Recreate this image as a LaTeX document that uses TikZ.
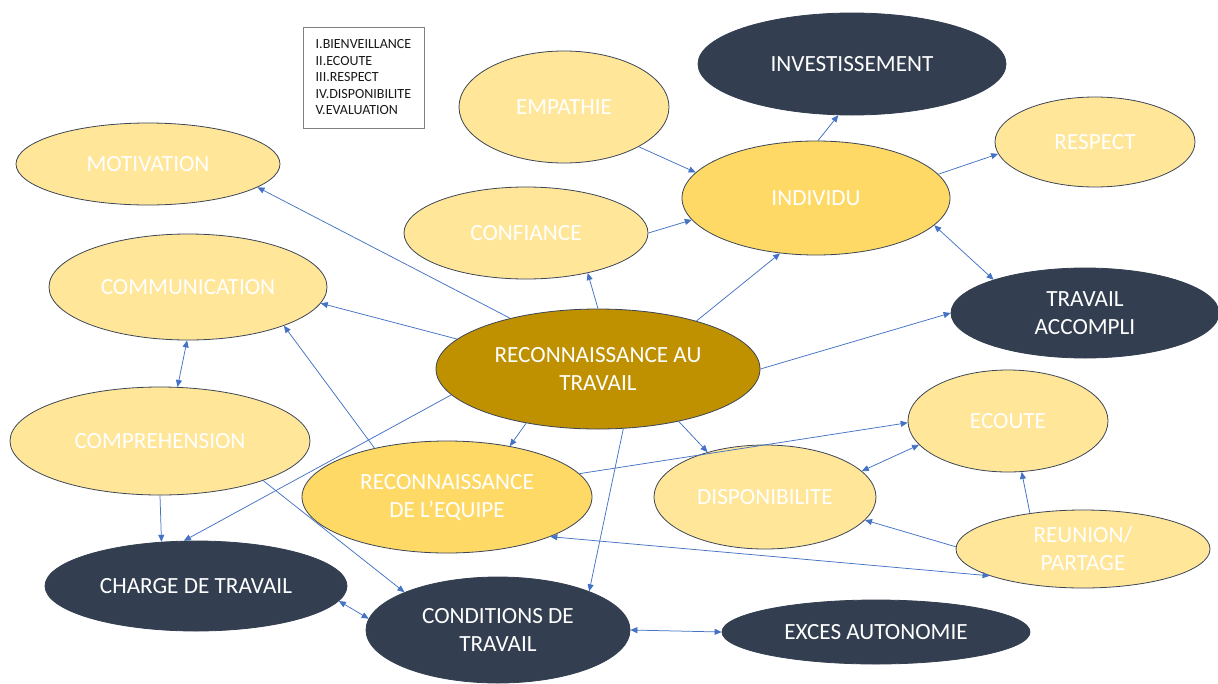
\documentclass[tikz,border=0pt]{standalone}
\usepackage{fontspec}
\setmainfont{Carlito}
\usetikzlibrary{shapes.geometric,arrows.meta}
\definecolor{lightY}{HTML}{FFE699}
\definecolor{midY}{HTML}{FFD966}
\definecolor{goldC}{HTML}{BF9000}
\definecolor{navyC}{HTML}{333F50}
\definecolor{edgeC}{HTML}{3C4656}
\definecolor{connC}{HTML}{4472C4}
\tikzset{
  base/.style={ellipse, inner sep=0pt, text=white, align=center, font=\fontsize{23.2}{28}\selectfont},
  sz/.style 2 args={minimum width=#1, minimum height=#2},
  light/.style={base, fill=lightY, draw=edgeC, line width=0.8pt},
  mid/.style={base, fill=midY, draw=edgeC, line width=0.8pt},
  dark/.style={base, fill=navyC, draw=navyC, line width=0.8pt},
  core/.style={base, fill=goldC, draw=edgeC, line width=0.8pt},
  link/.style={draw=connC, line width=0.75pt, -{Triangle[length=7pt,width=6pt]}},
  dlink/.style={draw=connC, line width=0.75pt, {Triangle[length=7pt,width=6pt]}-{Triangle[length=7pt,width=6pt]}},
  legendbox/.style={draw=black!50, fill=white, line width=0.8pt, minimum width=121, minimum height=101, inner sep=0pt, align=left, text=black!90, font=\fontsize{14}{16.5}\selectfont}
}
\begin{document}
\begin{tikzpicture}[x=1pt,y=-1pt]
\useasboundingbox (0,0) rectangle (1218,683);
\fill[white] (0,0) rectangle (1218,683);

\node[legendbox] (leg) at (363.5,77.5) {I.BIENVEILLANCE\\II.ECOUTE\\III.RESPECT\\IV.DISPONIBILITE\\V.EVALUATION};

\node[light, sz={264}{82}] (mot) at (148,164) {MOTIVATION};
\node[light, sz={210}{112}] (emp) at (564,107) {EMPATHIE};
\node[dark, sz={308}{102}] (inv) at (852,64) {INVESTISSEMENT};
\node[light, sz={200}{90}] (resp) at (1095,142) {RESPECT};
\node[mid, sz={268}{114}] (ind) at (816,198) {INDIVIDU};
\node[light, sz={244}{92}] (conf) at (526,233) {CONFIANCE};
\node[light, sz={278}{106}] (comm) at (188,287) {COMMUNICATION};
\node[dark, sz={268}{90}] (ta) at (1085,313) {TRAVAIL\\ACCOMPLI};
\node[core, sz={324}{120}] (rat) at (598,369) {RECONNAISSANCE AU\\TRAVAIL};
\node[light, sz={300}{108}] (comp) at (160,441) {COMPREHENSION};
\node[light, sz={200}{102}] (ecou) at (1008,421) {ECOUTE};
\node[mid, sz={290}{112}] (req) at (447,497) {RECONNAISSANCE\\DE L’EQUIPE};
\node[light, sz={222}{104}] (disp) at (765,497) {DISPONIBILITE};
\node[light, sz={254}{78}] (reu) at (1083,549) {REUNION/\\PARTAGE};
\node[dark, sz={302}{90}] (chg) at (196,586) {CHARGE DE TRAVAIL};
\node[dark, sz={264}{106}] (cond) at (498,630) {CONDITIONS DE\\TRAVAIL};
\node[dark, sz={308}{64}] (exc) at (876,632) {EXCES AUTONOMIE};

\draw[link] (rat.150) -- (mot.348);
\draw[link] (rat.168) -- (comm.353);
\draw[link] (req.146) -- (comm.338);
\draw[dlink] (comm.269) -- (comp.72);
\draw[link] (rat.190) -- (chg.105);
\draw[link] (comp.270) -- (chg.128);
\draw[link] (comp.339) -- (cond.158);
\draw[dlink] (chg.354) -- (cond.175);
\draw[link] (rat.293) -- (cond.23);
\draw[link] (rat.217) -- (req.39);
\draw[link] (rat.327) -- (disp.142);
\draw[link] (req.10) -- (ecou.181);
\draw[dlink] (disp.15) -- (ecou.195);
\draw[link] (reu.146) -- (ecou.285);
\draw[link] (reu.179) -- (disp.347);
\draw[dlink] (reu.196) -- (req.339);
\draw[link] (rat.0) -- (ta.180);
\draw[link] (rat.26) -- (ind.237);
\draw[link] (rat.90) -- (conf.327);
\draw[link] (conf.0) -- (ind.190);
\draw[link] (emp.332) -- (ind.168);
\draw[link] (ind.88) -- (inv.255);
\draw[link] (ind.11) -- (resp.187);
\draw[dlink] (ind.347) -- (ta.160);
\draw[dlink] (cond.0) -- (exc.180);
\end{tikzpicture}
\end{document}
